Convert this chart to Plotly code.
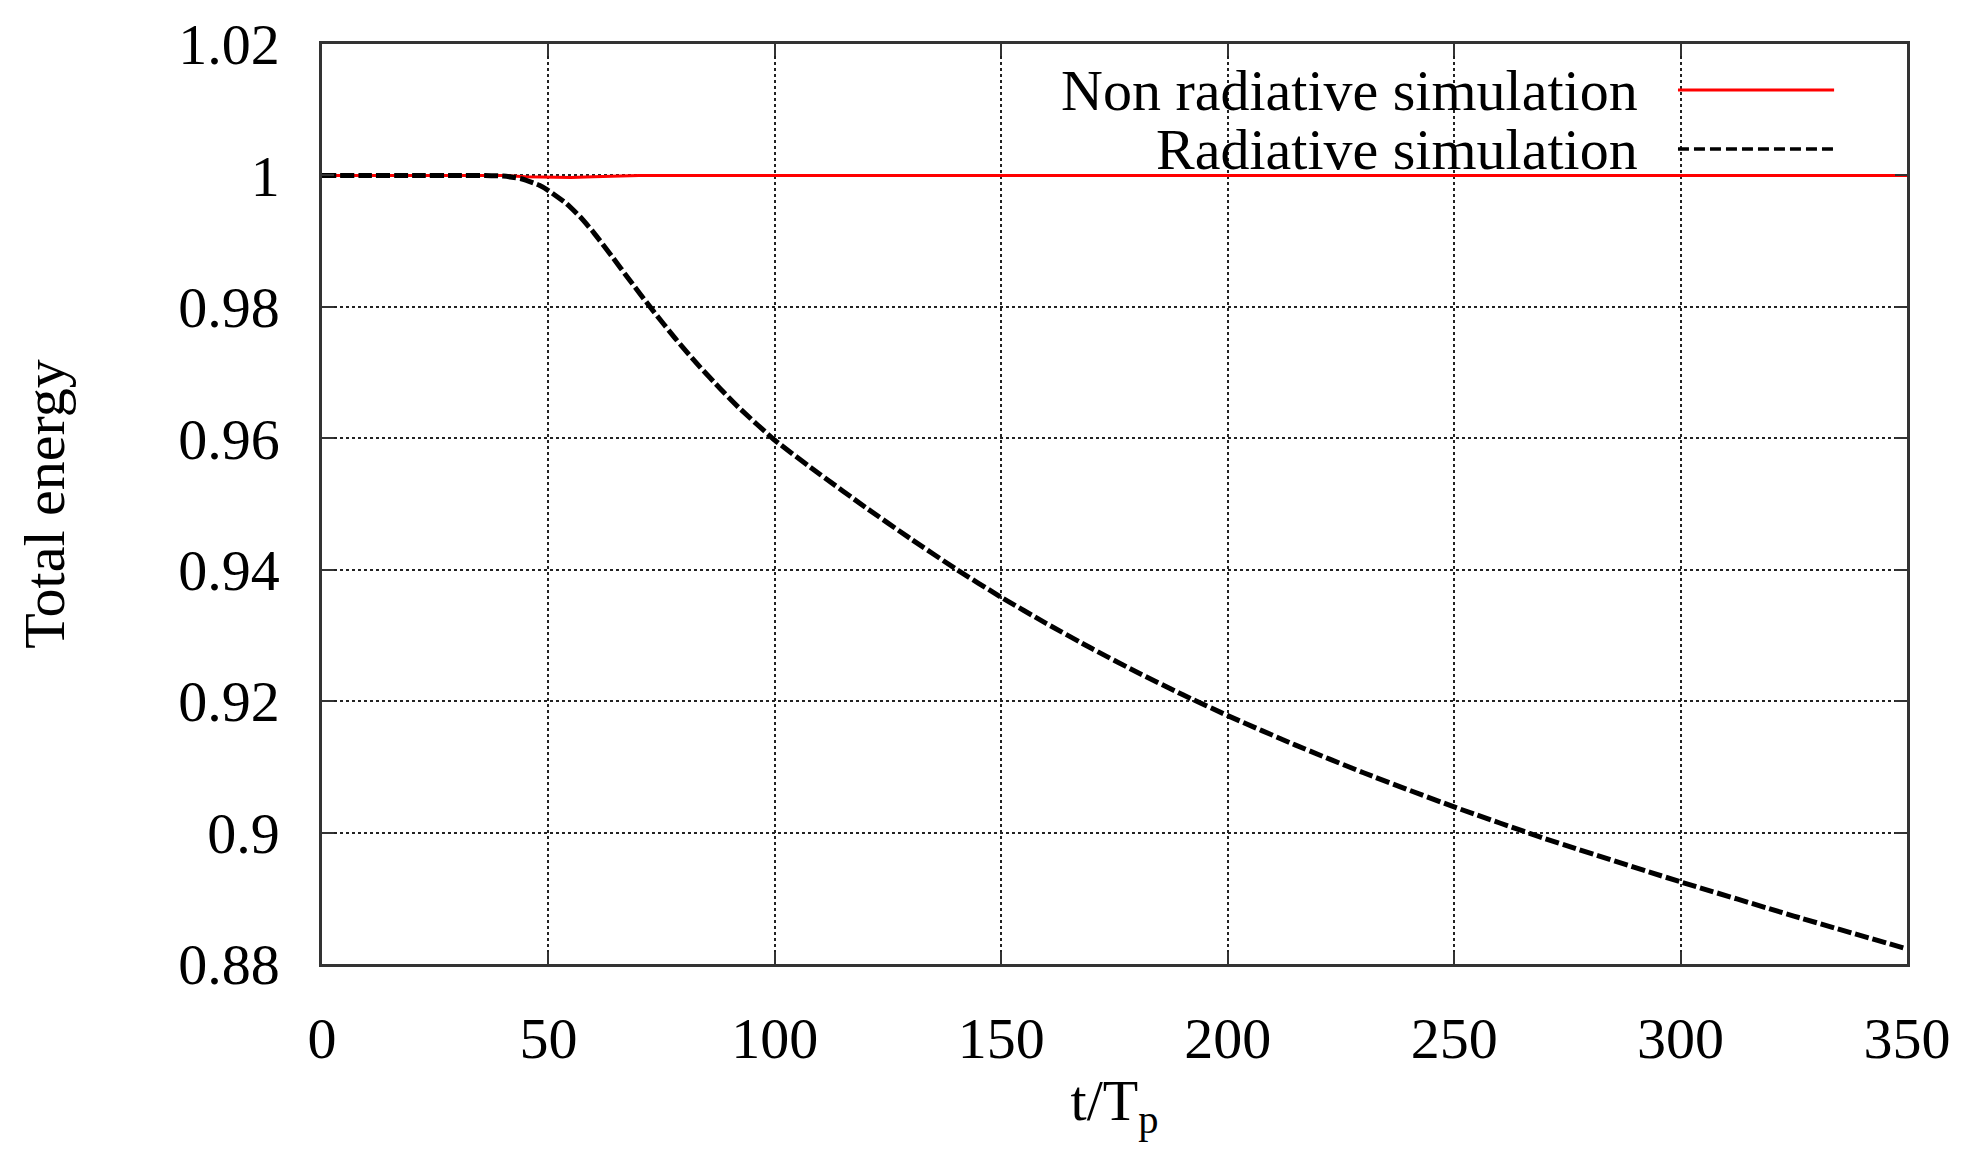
import plotly.graph_objects as go

# Time axis in units of the plasma period, and total energy normalised to t=0
t_nonrad = [0, 20, 40, 45, 50, 55, 60, 70, 80, 100, 150, 200, 250, 300, 350]
e_nonrad = [1.0, 1.0, 1.0, 0.9998, 0.9997, 0.9997, 0.9998, 1.0, 1.0, 1.0, 1.0, 1.0, 1.0, 1.0, 1.0]

t_rad = [0, 10, 20, 30, 36, 40, 44, 48, 50, 54, 57, 60, 64, 68, 73, 78, 83, 88, 92,
         100, 110, 120, 130, 140, 150, 160, 170, 180, 190, 200, 215, 230, 250,
         270, 300, 325, 350]
e_rad = [1.0, 1.0, 1.0, 1.0, 1.0, 0.9999, 0.9995, 0.9985, 0.9977, 0.9957, 0.9937, 0.9913,
         0.9877, 0.9840, 0.9795, 0.9752, 0.9712, 0.9675, 0.9647, 0.9597, 0.9545, 0.9495,
         0.9447, 0.9401, 0.9358, 0.9318, 0.9280, 0.9244, 0.9210, 0.9178, 0.9133, 0.9091,
         0.9039, 0.8991, 0.8925, 0.8873, 0.8823]

x_ticks = [0, 50, 100, 150, 200, 250, 300, 350]
y_ticks = [0.88, 0.90, 0.92, 0.94, 0.96, 0.98, 1.00, 1.02]
y_tick_text = ["0.88", "0.9", "0.92", "0.94", "0.96", "0.98", "1", "1.02"]

series_names = ["Non radiative simulation", "Radiative simulation"]

FONT = "Liberation Serif"
FS = 58

fig = go.Figure()
fig.add_trace(go.Scatter(x=t_nonrad, y=e_nonrad, mode="lines", name=series_names[0],
                         line=dict(color="#ff0000", width=3), showlegend=False))
fig.add_trace(go.Scatter(x=t_rad, y=e_rad, mode="lines", name=series_names[1],
                         line=dict(color="#000000", width=5, dash="14px,4px", shape="spline",
                                   smoothing=0.5),
                         showlegend=False))

axis_common = dict(
    showline=True, linecolor="#333333", linewidth=2.5, mirror="ticks",
    ticks="inside", ticklen=12, tickwidth=2, tickcolor="#333333",
    showgrid=True, gridcolor="#222222", gridwidth=1.5, griddash="dot",
    zeroline=False,
    tickfont=dict(family=FONT, size=FS, color="#000000"),
)

fig.update_xaxes(range=[0, 350], tickvals=x_ticks, ticktext=[str(v) for v in x_ticks],
                 ticklabelstandoff=22,
                 title=dict(text="t/T<sub>p</sub>", font=dict(family=FONT, size=FS, color="#000"),
                            standoff=10),
                 **axis_common)
fig.update_yaxes(range=[0.88, 1.02], tickvals=y_ticks, ticktext=y_tick_text,
                 ticklabelstandoff=28,
                 title=dict(text="Total energy", font=dict(family=FONT, size=FS, color="#000"),
                            standoff=95),
                 **axis_common)

# gnuplot-style key: right-aligned text followed by a line sample
key_rows = [(0.950, "#ff0000", "solid", 3), (0.886, "#000000", "11px,5px", 3.5)]
for name, (yk, col, dsh, w) in zip(series_names, key_rows):
    fig.add_annotation(x=0.8315, y=yk, xref="paper", yref="paper", text=name,
                       showarrow=False, xanchor="right", yanchor="middle",
                       height=56, valign="middle",
                       font=dict(family=FONT, size=FS, color="#000"))
    fig.add_shape(type="line", xref="paper", yref="paper", x0=0.8555, x1=0.954,
                  y0=yk, y1=yk, line=dict(color=col, width=w, dash=dsh))

fig.update_layout(
    width=1966, height=1149,
    margin=dict(l=322, r=59, t=44, b=185),
    paper_bgcolor="#ffffff", plot_bgcolor="#ffffff",
)

fig.write_html("out.html")
